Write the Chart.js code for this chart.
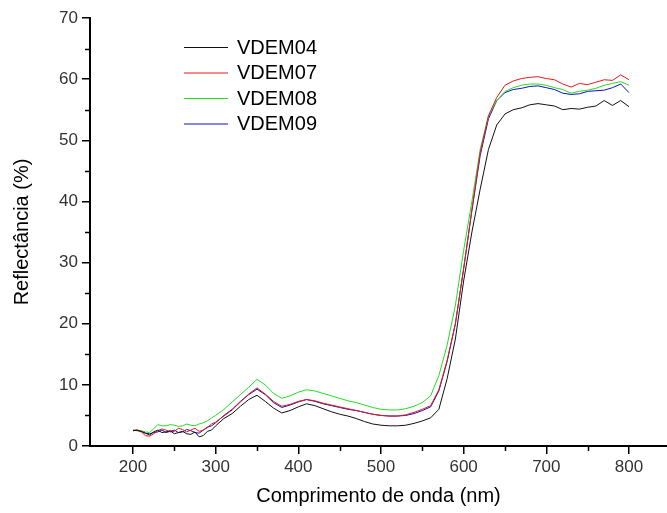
<!DOCTYPE html>
<html>
<head>
<meta charset="utf-8">
<script src="https://cdn.jsdelivr.net/npm/chart.js@4.4.0/dist/chart.umd.min.js"></script>
<style>
  html, body { margin: 0; padding: 0; background: #fff; }
  #wrap { width: 667px; height: 513px; }
</style>
</head>
<body>
<div id="wrap"><canvas id="chart" width="667" height="513"></canvas></div>
<script>
// wavelength (nm): every 5 nm up to 300, then every 10 nm
const wavelength = [
  200, 205, 210, 215, 220, 225, 230, 235, 240, 245,
  250, 255, 260, 265, 270, 275, 280, 285, 290, 295,
  300, 310, 320, 330, 340, 350, 360, 370, 380, 390,
  400, 410, 420, 430, 440, 450, 460, 470, 480, 490,
  500, 510, 520, 530, 540, 550, 560, 570, 580, 590,
  600, 610, 620, 630, 640, 650, 660, 670, 680, 690,
  700, 710, 720, 730, 740, 750, 760, 770, 780, 790,
  800
];

// reflectance (%)
const vdem04 = [
  2.5, 2.6, 2.4, 2.1, 1.8, 2.3, 2.6, 2.2, 2.3, 2.5,
  2.0, 2.2, 2.4, 2.0, 1.9, 2.3, 1.5, 1.7, 2.4, 2.6,
  3.3, 4.5, 5.3, 6.5, 7.6, 8.3, 7.3, 6.2, 5.4, 5.8,
  6.4, 6.9, 6.6, 6.1, 5.6, 5.2, 4.9, 4.5, 4.0, 3.6,
  3.4, 3.3, 3.3, 3.4, 3.7, 4.1, 4.6, 6.0, 11.0, 17.5,
  27.0, 35.0, 42.0, 48.5, 52.5, 54.3, 55.0, 55.3, 55.8, 56.0,
  55.8, 55.6, 55.0, 55.2, 55.1, 55.4, 55.6, 56.5, 55.7, 56.5,
  55.5
];
const vdem07 = [
  2.6, 2.5, 2.3, 1.7, 1.6, 2.0, 2.5, 2.8, 2.6, 2.3,
  2.4, 2.9, 2.7, 2.3, 2.6, 2.9, 2.4, 2.6, 3.0, 3.6,
  3.9, 4.9, 5.9, 7.2, 8.5, 9.5, 8.5, 7.3, 6.5, 6.8,
  7.3, 7.6, 7.4, 7.0, 6.7, 6.4, 6.1, 5.8, 5.5, 5.2,
  5.0, 4.9, 4.9, 5.1, 5.5, 6.0, 6.6, 9.2, 14.0, 20.0,
  29.0, 38.7, 48.0, 54.0, 57.0, 59.0, 59.7, 60.1, 60.3, 60.4,
  60.1, 59.9, 59.2, 58.7, 59.3, 59.1, 59.5, 59.9, 59.8, 60.7,
  59.9
];
const vdem08 = [
  2.6, 2.6, 2.5, 2.3, 2.2, 2.8, 3.5, 3.3, 3.3, 3.5,
  3.4, 3.2, 3.3, 3.6, 3.4, 3.3, 3.6, 3.8, 4.1, 4.6,
  5.0, 6.0, 7.2, 8.4, 9.6, 10.9, 10.0, 8.6, 7.8, 8.2,
  8.8, 9.2, 9.0, 8.6, 8.2, 7.8, 7.4, 7.1, 6.7, 6.3,
  6.0, 5.9, 5.9, 6.1, 6.5, 7.1, 8.2, 11.5, 16.5, 23.0,
  32.0, 40.0, 48.5, 54.0, 56.5, 58.0, 58.6, 59.0, 59.2, 59.2,
  59.0, 58.6, 58.3, 57.7, 58.0, 58.2, 58.5, 59.0, 59.3, 59.6,
  59.0
];
const vdem09 = [
  2.5, 2.6, 2.4, 2.1, 2.0, 2.2, 2.3, 2.6, 2.2, 2.4,
  2.6, 2.2, 2.3, 2.7, 2.5, 2.2, 2.1, 2.6, 3.1, 3.3,
  3.8, 5.0, 6.0, 7.3, 8.4, 9.3, 8.4, 7.1, 6.3, 6.7,
  7.2, 7.6, 7.3, 6.9, 6.6, 6.3, 6.0, 5.8, 5.5, 5.2,
  5.0, 4.9, 4.9, 5.0, 5.3, 5.8, 6.4, 9.0, 13.8, 20.0,
  29.0, 38.5, 47.5, 53.5, 56.5, 57.8, 58.3, 58.5, 58.8, 58.9,
  58.6, 58.3, 57.7, 57.5, 57.6, 58.0, 58.1, 58.2, 58.6, 59.2,
  57.8
];

const xTicks = [200, 300, 400, 500, 600, 700, 800];
const xMinorTicks = [250, 350, 450, 550, 650, 750];
const yTicks = [0, 10, 20, 30, 40, 50, 60, 70];
const yMinorTicks = [5, 15, 25, 35, 45, 55, 65];

const FONT = '"Liberation Sans", Arial, sans-serif';

function points(values) {
  return wavelength.map((w, i) => ({ x: w, y: values[i] }));
}

// half-length ticks between the labelled ones
const minorTicks = {
  id: 'minorTicks',
  afterDraw(chart) {
    const ctx = chart.ctx;
    const xs = chart.scales.x;
    const ys = chart.scales.y;
    ctx.save();
    ctx.strokeStyle = '#000';
    ctx.lineWidth = 1.5;
    ctx.beginPath();
    xMinorTicks.forEach(v => {
      const px = Math.round(xs.getPixelForValue(v)) + 0.5;
      ctx.moveTo(px, xs.top);
      ctx.lineTo(px, xs.top + 5);
    });
    yMinorTicks.forEach(v => {
      const py = Math.round(ys.getPixelForValue(v)) + 0.5;
      ctx.moveTo(ys.right, py);
      ctx.lineTo(ys.right - 5, py);
    });
    ctx.stroke();
    ctx.restore();
  }
};

// legend inside the plot, line sample + name
const insetLegend = {
  id: 'insetLegend',
  afterDraw(chart) {
    const ctx = chart.ctx;
    const area = chart.chartArea;
    ctx.save();
    ctx.font = '20px ' + FONT;
    ctx.textBaseline = 'middle';
    chart.data.datasets.forEach((ds, i) => {
      const yy = area.top + 29 + i * 25.5;
      ctx.strokeStyle = ds.borderColor;
      ctx.lineWidth = 1;
      ctx.beginPath();
      ctx.moveTo(area.left + 94, yy + 0.5);
      ctx.lineTo(area.left + 138, yy + 0.5);
      ctx.stroke();
      ctx.fillStyle = '#000';
      ctx.fillText(ds.label, area.left + 147, yy + 1);
    });
    ctx.restore();
  }
};

const ctx = document.getElementById('chart').getContext('2d');
new Chart(ctx, {
  type: 'line',
  data: {
    datasets: [
      { label: 'VDEM04', data: points(vdem04), borderColor: '#111111' },
      { label: 'VDEM07', data: points(vdem07), borderColor: '#e81818' },
      { label: 'VDEM08', data: points(vdem08), borderColor: '#22dd22' },
      { label: 'VDEM09', data: points(vdem09), borderColor: '#1010c0' },
    ],
  },
  options: {
    responsive: false,
    animation: false,
    devicePixelRatio: 1,
    datasets: {
      line: { borderWidth: 1, pointRadius: 0, tension: 0, fill: false },
    },
    layout: { padding: { top: 18, right: 0, bottom: 0, left: 0 } },
    plugins: {
      legend: { display: false },
      tooltip: { enabled: false },
    },
    scales: {
      x: {
        type: 'linear',
        min: 148,
        max: 846,
        afterBuildTicks: scale => { scale.ticks = xTicks.map(v => ({ value: v })); },
        afterFit: scale => { scale.height = 67; },
        border: { display: true, color: '#000', width: 2 },
        grid: { drawOnChartArea: false, color: '#000', lineWidth: 1.5, tickLength: 8 },
        ticks: { color: '#333', font: { family: FONT, size: 17 }, padding: 3, maxRotation: 0 },
        title: {
          display: true,
          text: 'Comprimento de onda (nm)',
          color: '#000',
          font: { family: FONT, size: 20 },
          padding: { top: 0, bottom: 5 },
        },
      },
      y: {
        min: 0,
        max: 70,
        afterBuildTicks: scale => { scale.ticks = yTicks.map(v => ({ value: v })); },
        afterFit: scale => { scale.width = 90; },
        border: { display: true, color: '#000', width: 2 },
        grid: { drawOnChartArea: false, color: '#000', lineWidth: 1.5, tickLength: 8 },
        ticks: { color: '#333', font: { family: FONT, size: 17 }, padding: 4 },
        title: {
          display: true,
          text: 'Reflectância (%)',
          color: '#000',
          font: { family: FONT, size: 20 },
          padding: { top: 10, bottom: 0 },
        },
      },
    },
  },
  plugins: [minorTicks, insetLegend],
});
</script>
</body>
</html>
